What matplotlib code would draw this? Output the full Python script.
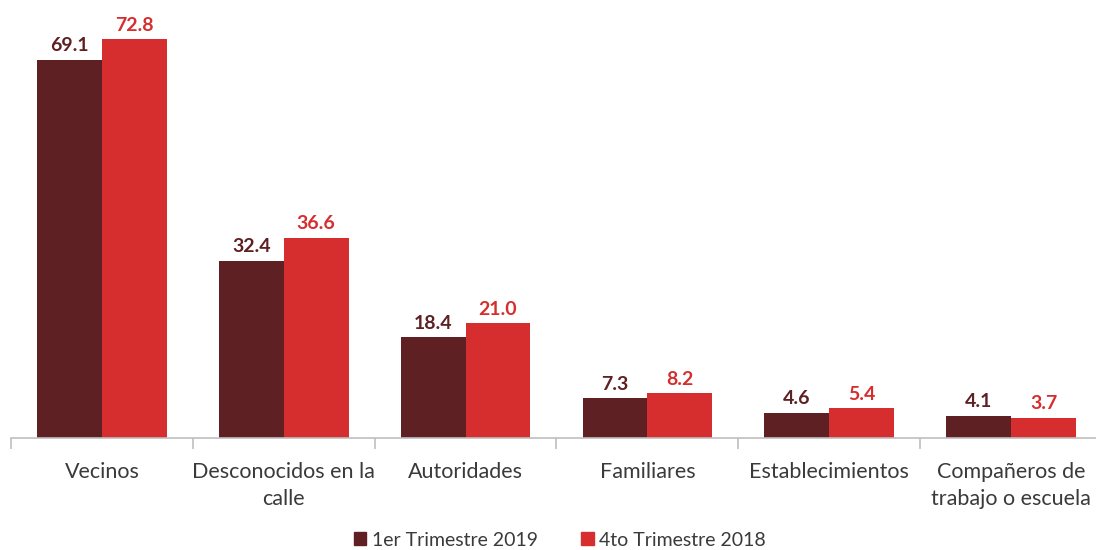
import numpy as np
import matplotlib.pyplot as plt
from matplotlib.patches import Patch

categorias = ['Vecinos', 'Desconocidos en la\ncalle', 'Autoridades', 'Familiares',
              'Establecimientos', 'Compañeros de\ntrabajo o escuela']
t1_2019 = [69.1, 32.4, 18.4, 7.3, 4.6, 4.1]
t4_2018 = [72.8, 36.6, 21.0, 8.2, 5.4, 3.7]
series = ['1er Trimestre 2019', '4to Trimestre 2018']

c_dark = '#5e2022'
c_red = '#d62e2e'

plt.rcParams['font.family'] = ['Lato', 'DejaVu Sans']

fig = plt.figure(figsize=(10.96, 5.5), dpi=100)
ax = fig.add_axes([11 / 1096, 112 / 550, 1091 / 1096, 438 / 550])

x = np.arange(len(categorias))
w = 0.357
b1 = ax.bar(x - w / 2, t1_2019, w, color=c_dark)
b2 = ax.bar(x + w / 2, t4_2018, w, color=c_red)

# etiquetas de valor sobre cada barra
for bars, vals, col in [(b1, t1_2019, c_dark), (b2, t4_2018, c_red)]:
    for r, v in zip(bars, vals):
        ax.text(r.get_x() + r.get_width() / 2, v + 1.0, f'{v:.1f}', ha='center', va='bottom',
                fontsize=14, fontweight='bold', color=col)

ax.set_xlim(-0.5, len(categorias) - 0.5)
ax.set_ylim(0, 80)
ax.set_yticks([])
for s in ['top', 'right', 'left']:
    ax.spines[s].set_visible(False)
ax.spines['bottom'].set_color('#bfbfbf')
ax.spines['bottom'].set_linewidth(1.2)

ax.set_xticks(x)
ax.set_xticklabels(categorias, fontsize=15.5, color='#3a3a3a', linespacing=1.45)
ax.tick_params(axis='x', which='major', length=0, pad=17)
ax.set_xticks(np.arange(-0.5, len(categorias), 1.0), minor=True)
ax.tick_params(axis='x', which='minor', length=8, color='#bfbfbf', width=1.2)
for lbl in ax.get_xticklabels():
    lbl.set_verticalalignment('top')

handles = [Patch(color=c_dark), Patch(color=c_red)]
fig.legend(handles, series, loc='center', bbox_to_anchor=(560 / 1096, 1 - 540 / 550),
           ncol=2, frameon=False, fontsize=14, handlelength=0.65, handleheight=0.65,
           handletextpad=0.3, columnspacing=2.2, labelcolor='#3a3a3a')

fig.savefig('out.png', dpi=100)
